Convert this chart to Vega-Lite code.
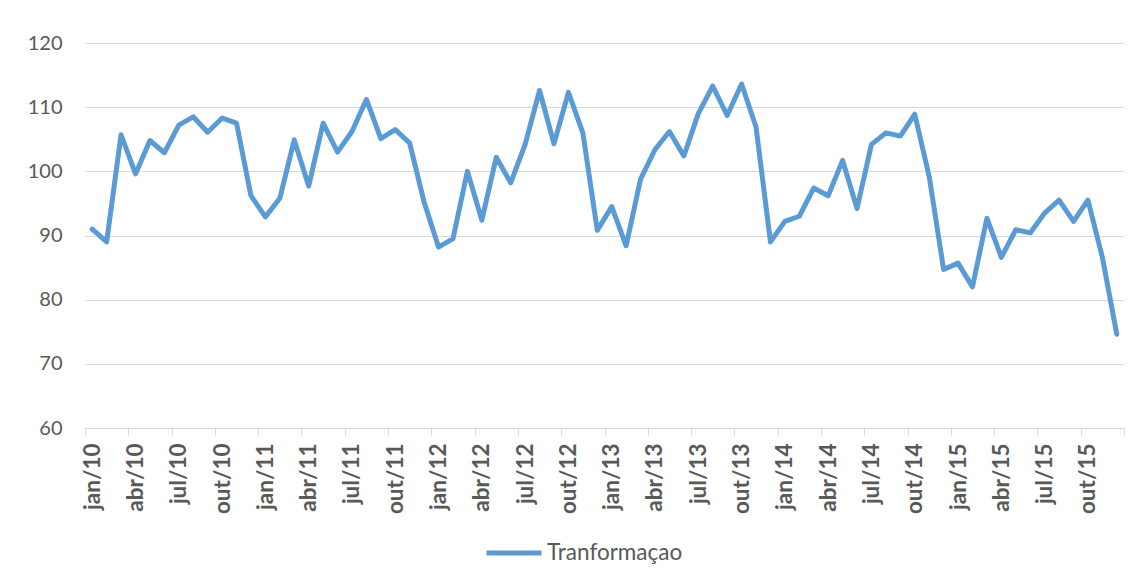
{
  "$schema": "https://vega.github.io/schema/vega-lite/v6.json",
  "width": 1039,
  "height": 385,
  "autosize": {"type": "none"},
  "padding": {"left": 85, "top": 43, "right": 13, "bottom": 153},
  "background": "white",
  "config": {
    "view": {"stroke": null},
    "font": "Lato",
    "axis": {"labelFont": "Lato", "labelColor": "#595959", "titleColor": "#595959"}
  },
  "data": {
    "values": [
      {"mes": "jan/10", "i": 0, "valor": 91.0},
      {"mes": "fev/10", "i": 1, "valor": 89.0},
      {"mes": "mar/10", "i": 2, "valor": 105.7},
      {"mes": "abr/10", "i": 3, "valor": 99.6},
      {"mes": "mai/10", "i": 4, "valor": 104.8},
      {"mes": "jun/10", "i": 5, "valor": 102.9},
      {"mes": "jul/10", "i": 6, "valor": 107.2},
      {"mes": "ago/10", "i": 7, "valor": 108.5},
      {"mes": "set/10", "i": 8, "valor": 106.1},
      {"mes": "out/10", "i": 9, "valor": 108.3},
      {"mes": "nov/10", "i": 10, "valor": 107.5},
      {"mes": "dez/10", "i": 11, "valor": 96.2},
      {"mes": "jan/11", "i": 12, "valor": 92.9},
      {"mes": "fev/11", "i": 13, "valor": 95.8},
      {"mes": "mar/11", "i": 14, "valor": 104.9},
      {"mes": "abr/11", "i": 15, "valor": 97.7},
      {"mes": "mai/11", "i": 16, "valor": 107.5},
      {"mes": "jun/11", "i": 17, "valor": 103.0},
      {"mes": "jul/11", "i": 18, "valor": 106.2},
      {"mes": "ago/11", "i": 19, "valor": 111.2},
      {"mes": "set/11", "i": 20, "valor": 105.1},
      {"mes": "out/11", "i": 21, "valor": 106.5},
      {"mes": "nov/11", "i": 22, "valor": 104.4},
      {"mes": "dez/11", "i": 23, "valor": 95.2},
      {"mes": "jan/12", "i": 24, "valor": 88.2},
      {"mes": "fev/12", "i": 25, "valor": 89.5},
      {"mes": "mar/12", "i": 26, "valor": 100.0},
      {"mes": "abr/12", "i": 27, "valor": 92.4},
      {"mes": "mai/12", "i": 28, "valor": 102.2},
      {"mes": "jun/12", "i": 29, "valor": 98.2},
      {"mes": "jul/12", "i": 30, "valor": 104.2},
      {"mes": "ago/12", "i": 31, "valor": 112.6},
      {"mes": "set/12", "i": 32, "valor": 104.3},
      {"mes": "out/12", "i": 33, "valor": 112.3},
      {"mes": "nov/12", "i": 34, "valor": 106.0},
      {"mes": "dez/12", "i": 35, "valor": 90.8},
      {"mes": "jan/13", "i": 36, "valor": 94.5},
      {"mes": "fev/13", "i": 37, "valor": 88.4},
      {"mes": "mar/13", "i": 38, "valor": 98.8},
      {"mes": "abr/13", "i": 39, "valor": 103.4},
      {"mes": "mai/13", "i": 40, "valor": 106.2},
      {"mes": "jun/13", "i": 41, "valor": 102.4},
      {"mes": "jul/13", "i": 42, "valor": 109.0},
      {"mes": "ago/13", "i": 43, "valor": 113.3},
      {"mes": "set/13", "i": 44, "valor": 108.7},
      {"mes": "out/13", "i": 45, "valor": 113.6},
      {"mes": "nov/13", "i": 46, "valor": 106.9},
      {"mes": "dez/13", "i": 47, "valor": 89.0},
      {"mes": "jan/14", "i": 48, "valor": 92.2},
      {"mes": "fev/14", "i": 49, "valor": 93.0},
      {"mes": "mar/14", "i": 50, "valor": 97.4},
      {"mes": "abr/14", "i": 51, "valor": 96.2},
      {"mes": "mai/14", "i": 52, "valor": 101.7},
      {"mes": "jun/14", "i": 53, "valor": 94.2},
      {"mes": "jul/14", "i": 54, "valor": 104.2},
      {"mes": "ago/14", "i": 55, "valor": 106.0},
      {"mes": "set/14", "i": 56, "valor": 105.5},
      {"mes": "out/14", "i": 57, "valor": 108.9},
      {"mes": "nov/14", "i": 58, "valor": 99.2},
      {"mes": "dez/14", "i": 59, "valor": 84.7},
      {"mes": "jan/15", "i": 60, "valor": 85.7},
      {"mes": "fev/15", "i": 61, "valor": 82.0},
      {"mes": "mar/15", "i": 62, "valor": 92.7},
      {"mes": "abr/15", "i": 63, "valor": 86.6},
      {"mes": "mai/15", "i": 64, "valor": 90.9},
      {"mes": "jun/15", "i": 65, "valor": 90.4},
      {"mes": "jul/15", "i": 66, "valor": 93.5},
      {"mes": "ago/15", "i": 67, "valor": 95.5},
      {"mes": "set/15", "i": 68, "valor": 92.2},
      {"mes": "out/15", "i": 69, "valor": 95.5},
      {"mes": "nov/15", "i": 70, "valor": 86.6},
      {"mes": "dez/15", "i": 71, "valor": 74.6}
    ]
  },
  "mark": {"type": "line", "strokeWidth": 5, "strokeJoin": "round", "strokeCap": "round"},
  "encoding": {
    "x": {
      "field": "i",
      "type": "quantitative",
      "scale": {"domain": [-0.5, 71.5], "nice": false, "zero": false},
      "axis": {
        "title": null,
        "values": [-0.5, 2.5, 5.5, 8.5, 11.5, 14.5, 17.5, 20.5, 23.5, 26.5, 29.5, 32.5, 35.5, 38.5, 41.5, 44.5, 47.5, 50.5, 53.5, 56.5, 59.5, 62.5, 65.5, 68.5, 71.5],
        "labelExpr": "datum.value > 71 ? '' : ['jan','abr','jul','out'][floor((datum.value + 0.5) / 3) % 4] + '/' + (10 + floor((datum.value + 0.5) / 12))",
        "labelAngle": -90,
        "labelAlign": "right",
        "labelBaseline": "middle",
        "labelOffset": 7.2,
        "labelFontSize": 22.5,
        "labelFontWeight": "bold",
        "labelPadding": 8,
        "labelOverlap": false,
        "labelBound": false,
        "labelFlush": false,
        "tickSize": 7,
        "tickColor": "#d9d9d9",
        "tickWidth": 1,
        "domainColor": "#d9d9d9",
        "domainWidth": 1,
        "grid": false
      }
    },
    "y": {
      "field": "valor",
      "type": "quantitative",
      "scale": {"domain": [60, 120], "nice": false, "zero": false},
      "axis": {
        "title": null,
        "values": [60, 70, 80, 90, 100, 110, 120],
        "labelFontSize": 20,
        "labelPadding": 23,
        "ticks": false,
        "domain": false,
        "grid": true,
        "gridColor": "#d9d9d9",
        "gridWidth": 1
      }
    },
    "color": {
      "datum": "Tranformaçao",
      "type": "nominal",
      "scale": {"range": ["#5b9bd5"]},
      "legend": {
        "title": null,
        "orient": "none",
        "legendX": 399,
        "legendY": 480,
        "symbolType": "stroke",
        "symbolSize": 3025,
        "symbolStrokeWidth": 5,
        "labelFontSize": 22.5,
        "labelColor": "#595959",
        "labelFont": "Lato",
        "labelOffset": 3
      }
    }
  }
}
